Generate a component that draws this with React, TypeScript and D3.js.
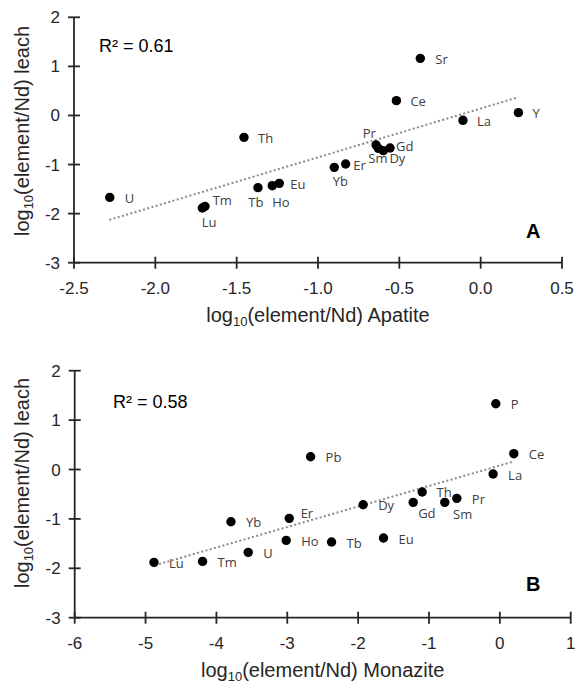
import React from 'react';
import * as d3 from 'd3';

// ---------- Panel A: Apatite ----------
const apatiteElements = ['U', 'Lu', 'Tm', 'Th', 'Tb', 'Ho', 'Eu', 'Yb', 'Er', 'Pr', 'Sm', 'Dy', 'Gd', 'Ce', 'Sr', 'La', 'Y'];
const apatiteX = [-2.28, -1.711, -1.695, -1.455, -1.369, -1.281, -1.238, -0.9, -0.83, -0.643, -0.629, -0.598, -0.557, -0.518, -0.371, -0.109, 0.232];
const apatiteY = [-1.67, -1.886, -1.852, -0.446, -1.471, -1.431, -1.383, -1.057, -0.989, -0.602, -0.67, -0.717, -0.663, 0.302, 1.164, -0.099, 0.057];
const apatiteTrendX = [-2.283, 0.231];
const apatiteTrendY = [-2.128, 0.371];
const apatiteXTicks = [-2.5, -2.0, -1.5, -1.0, -0.5, 0.0, 0.5];
const leachYTicks = [2, 1, 0, -1, -2, -3];

// ---------- Panel B: Monazite ----------
const monaziteElements = ['P', 'Ce', 'La', 'Pb', 'Th', 'Pr', 'Sm', 'Gd', 'Dy', 'Er', 'Yb', 'Ho', 'Tb', 'Eu', 'U', 'Tm', 'Lu'];
const monaziteX = [-0.057, 0.197, -0.095, -2.671, -1.096, -0.607, -0.777, -1.223, -1.929, -2.972, -3.795, -3.015, -2.375, -1.642, -3.551, -4.195, -4.881];
const monaziteY = [1.332, 0.32, -0.092, 0.259, -0.456, -0.584, -0.665, -0.665, -0.713, -0.989, -1.057, -1.435, -1.468, -1.387, -1.677, -1.86, -1.88];
const monaziteTrendX = [-4.87, 0.186];
const monaziteTrendY = [-1.94, 0.158];
const monaziteXTicks = [-6, -5, -4, -3, -2, -1, 0, 1];

// label offsets (layout, not data)
const labelOffsetsA: Record<string, [number, number]> = {
  U: [15, 6], Lu: [-0.6, 18.7], Tm: [7.7, -1.3], Th: [14, 6], Tb: [-9.7, 19], Ho: [0, 21],
  Eu: [11, 6], Yb: [-1.6, 18.7], Er: [7.7, 6], Pr: [-13.3, -7.3], Sm: [-10, 15], Dy: [6, 12.6],
  Gd: [6, 2.7], Ce: [14, 5.3], Sr: [15, 5.7], La: [14, 5.7], Y: [14, 5.6],
};
const labelOffsetsB: Record<string, [number, number]> = {
  Sm: [8.3, 17], Gd: [5, 16], Er: [11.4, 0], Th: [14.3, 4.7],
};

interface PanelProps {
  elements: string[]; xs: number[]; ys: number[]; trendX: number[]; trendY: number[];
  xTicks: number[]; xDomain: [number, number]; xRange: [number, number]; yRange: [number, number];
  tickFmt: (v: number) => string; xTitle: string; r2: string; r2Pos: [number, number];
  letter: string; letterPos: [number, number]; yTitleCenter: number; offsets: Record<string, [number, number]>;
}

const AXIS = '#262626';
const TEXT = '#262626';
const hyphen = (s: string) => s.replace('\u2212', '-');

function Panel(p: PanelProps) {
  const x = d3.scaleLinear().domain(p.xDomain).range(p.xRange);
  const y = d3.scaleLinear().domain([-3, 2]).range(p.yRange);
  const line = d3.line<[number, number]>().x(d => x(d[0])).y(d => y(d[1]));
  const trend: [number, number][] = p.trendX.map((v, i) => [v, p.trendY[i]]);
  const x0 = p.xRange[0];
  const yBottom = p.yRange[0];
  return (
    <g>
      {/* y axis */}
      <line x1={x0} x2={x0} y1={p.yRange[1]} y2={yBottom} stroke={AXIS} strokeWidth={1.8} />
      {leachYTicks.map(t => (
        <g key={'y' + t}>
          <line x1={x0 - 6} x2={x0 + 6} y1={y(t)} y2={y(t)} stroke={AXIS} strokeWidth={1.8} />
          <text x={x0 - 14} y={y(t) + 6} textAnchor="end" fontSize={17} fontFamily="Liberation Sans, Arial, sans-serif" fill={TEXT}>{String(t)}</text>
        </g>
      ))}
      {/* x axis */}
      <line x1={p.xRange[0]} x2={p.xRange[1]} y1={yBottom} y2={yBottom} stroke={AXIS} strokeWidth={1.8} />
      {p.xTicks.map(t => (
        <g key={'x' + t}>
          <line x1={x(t)} x2={x(t)} y1={yBottom - 6} y2={yBottom + 6} stroke={AXIS} strokeWidth={1.8} />
          <text x={x(t)} y={yBottom + 31} textAnchor="middle" fontSize={17} fontFamily="Liberation Sans, Arial, sans-serif" fill={TEXT}>{hyphen(p.tickFmt(t))}</text>
        </g>
      ))}
      {/* axis titles */}
      <text x={(p.xRange[0] + p.xRange[1]) / 2} y={yBottom + 59} textAnchor="middle" fontSize={20} fontFamily="Liberation Sans, Arial, sans-serif" fill={TEXT}>
        log<tspan fontSize={13} dy={4}>10</tspan><tspan dy={-4}>{p.xTitle}</tspan>
      </text>
      <text transform={`translate(29,${p.yTitleCenter}) rotate(-90)`} textAnchor="middle" fontSize={20} fontFamily="Liberation Sans, Arial, sans-serif" fill={TEXT}>
        log<tspan fontSize={13} dy={4}>10</tspan><tspan dy={-4}>(element/Nd) leach</tspan>
      </text>
      {/* trendline */}
      <path d={line(trend) || ''} fill="none" stroke="#8a8a8a" strokeWidth={2} strokeDasharray="2,2.4" />
      {/* points */}
      {p.elements.map((el, i) => (
        <circle key={'c' + el} cx={x(p.xs[i])} cy={y(p.ys[i])} r={4.7} fill="#000" />
      ))}
      {p.elements.map((el, i) => {
        const off = p.offsets[el] || [15, 5.5];
        return (
          <text key={'t' + el} x={x(p.xs[i]) + off[0]} y={y(p.ys[i]) + off[1]} fontSize={13} fontFamily="Open Sans, Noto Sans, sans-serif" fill="#404040">{el}</text>
        );
      })}
      <text x={p.r2Pos[0]} y={p.r2Pos[1]} fontSize={18} fontFamily="Liberation Sans, Arial, sans-serif" fill="#000">{p.r2}</text>
      <text x={p.letterPos[0]} y={p.letterPos[1]} fontSize={20} fontWeight="bold" fontFamily="Liberation Sans, Arial, sans-serif" fill="#000">{p.letter}</text>
    </g>
  );
}

export default function App() {
  return (
    <svg width={579} height={684} style={{ position: 'absolute', left: 0, top: 0, background: '#fff' }}>
      <rect width={579} height={684} fill="#fff" />
      <Panel
        elements={apatiteElements} xs={apatiteX} ys={apatiteY} trendX={apatiteTrendX} trendY={apatiteTrendY}
        xTicks={apatiteXTicks} xDomain={[-2.5, 0.5]} xRange={[74, 562]} yRange={[262.7, 17.3]}
        tickFmt={d3.format('.1f')} xTitle="(element/Nd) Apatite" r2="R² = 0.61" r2Pos={[99, 52]}
        letter="A" letterPos={[526, 238]} yTitleCenter={131} offsets={labelOffsetsA}
      />
      <Panel
        elements={monaziteElements} xs={monaziteX} ys={monaziteY} trendX={monaziteTrendX} trendY={monaziteTrendY}
        xTicks={monaziteXTicks} xDomain={[-6, 1]} xRange={[74.7, 570.7]} yRange={[617.7, 370.7]}
        tickFmt={d3.format('d')} xTitle="(element/Nd) Monazite" r2="R² = 0.58" r2Pos={[113, 408]}
        letter="B" letterPos={[526, 591]} yTitleCenter={483} offsets={labelOffsetsB}
      />
    </svg>
  );
}
